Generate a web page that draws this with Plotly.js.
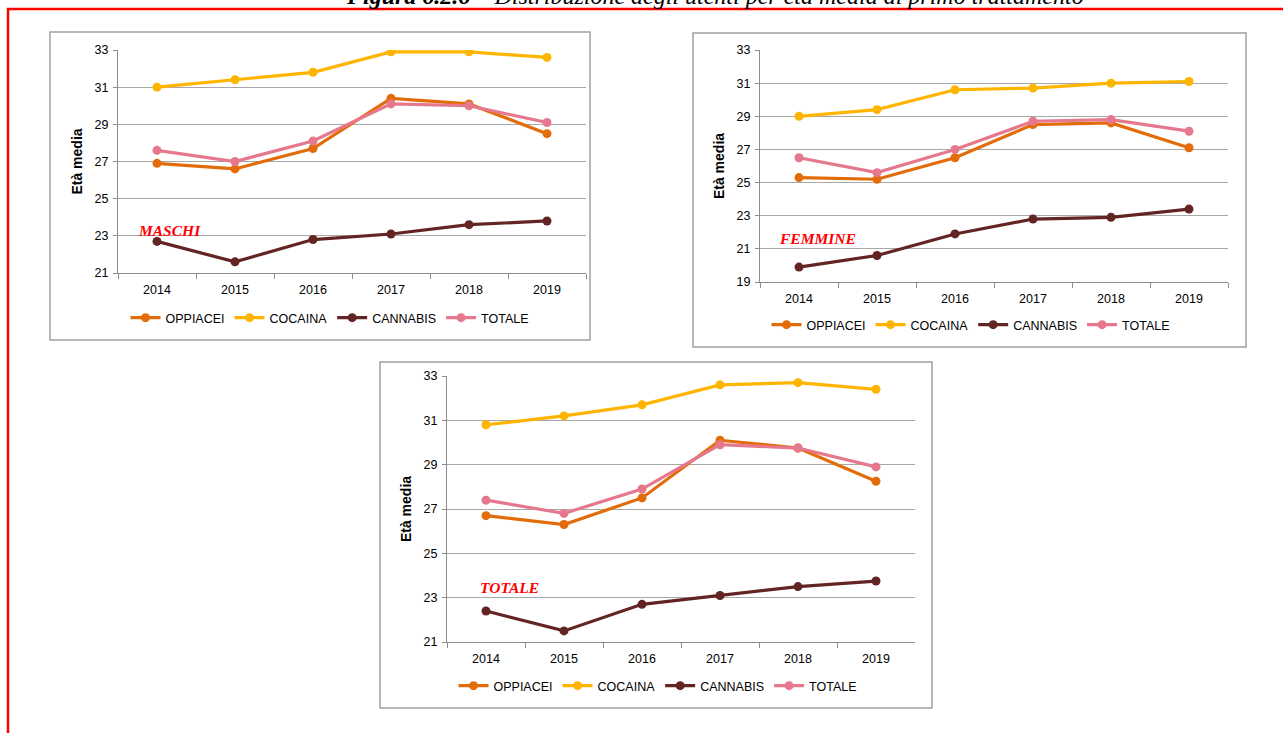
<!DOCTYPE html>
<html>
<head>
<meta charset="utf-8">
<script src="https://cdn.plot.ly/plotly-3.0.1.min.js"></script>
<style>
  html, body { margin: 0; padding: 0; background: #ffffff; }
  #chart { width: 1283px; height: 733px; }
</style>
</head>
<body>
<div id="chart"></div>
<script>
// Età media al primo trattamento per sostanza, anni 2014-2019
const years = ['2014', '2015', '2016', '2017', '2018', '2019'];
const seriesNames = ['OPPIACEI', 'COCAINA', 'CANNABIS', 'TOTALE'];

const maschiOppiacei = [26.9, 26.6, 27.7, 30.4, 30.1, 28.5];
const maschiCocaina  = [31.0, 31.4, 31.8, 32.9, 32.9, 32.6];
const maschiCannabis = [22.7, 21.6, 22.8, 23.1, 23.6, 23.8];
const maschiTotale   = [27.6, 27.0, 28.1, 30.1, 30.0, 29.1];

const femmineOppiacei = [25.3, 25.2, 26.5, 28.5, 28.6, 27.1];
const femmineCocaina  = [29.0, 29.4, 30.6, 30.7, 31.0, 31.1];
const femmineCannabis = [19.9, 20.6, 21.9, 22.8, 22.9, 23.4];
const femmineTotale   = [26.5, 25.6, 27.0, 28.7, 28.8, 28.1];

const totaleOppiacei = [26.7, 26.3, 27.5, 30.1, 29.75, 28.25];
const totaleCocaina  = [30.8, 31.2, 31.7, 32.6, 32.7, 32.4];
const totaleCannabis = [22.4, 21.5, 22.7, 23.1, 23.5, 23.75];
const totaleTotale   = [27.4, 26.8, 27.9, 29.9, 29.75, 28.9];

const panelLabels = ['MASCHI', 'FEMMINE', 'TOTALE'];
const yTitle = 'Età media';
const figureTitle = '<b>Figura 6.2.6</b> – Distribuzione degli utenti per età media al primo trattamento';

const seriesColors = ['#E36C0A', '#FFB500', '#632523', '#E5788C'];

// Page geometry (pixels)
const W = 1283, H = 733;
const fx = p => p / W;
const fy = p => 1 - p / H;

const panels = [
  { data: [maschiOppiacei, maschiCocaina, maschiCannabis, maschiTotale],
    ax: '', area: [118, 50, 586, 273], yRange: [21, 33], box: [50, 32, 590, 340],
    legendAt: [330, 318], labelAt: [170, 230] },
  { data: [femmineOppiacei, femmineCocaina, femmineCannabis, femmineTotale],
    ax: '2', area: [760, 50, 1228, 282], yRange: [19, 33], box: [693, 33, 1246, 347],
    legendAt: [971, 325], labelAt: [817, 238] },
  { data: [totaleOppiacei, totaleCocaina, totaleCannabis, totaleTotale],
    ax: '3', area: [447, 376, 915, 642], yRange: [21, 33], box: [380, 362, 932, 708],
    legendAt: [658, 686], labelAt: [509, 587] }
];

const traces = [];
const layout = {
  width: W, height: H,
  margin: { l: 0, r: 0, t: 0, b: 0, pad: 0 },
  paper_bgcolor: '#ffffff',
  plot_bgcolor: 'rgba(0,0,0,0)',
  showlegend: true,
  font: { family: 'Arial, "Liberation Sans", sans-serif', size: 12, color: '#000000' },
  shapes: [],
  annotations: []
};

panels.forEach((p, i) => {
  const xName = 'x' + p.ax, yName = 'y' + p.ax;
  const legendName = i === 0 ? 'legend' : 'legend' + (i + 1);

  p.data.forEach((vals, s) => {
    traces.push({
      type: 'scatter', mode: 'lines+markers',
      x: years, y: vals, name: seriesNames[s],
      xaxis: xName, yaxis: yName, legend: legendName,
      line: { color: seriesColors[s], width: 3.2 },
      marker: { color: seriesColors[s], size: 9, symbol: 'circle' },
      hoverinfo: 'x+y+name'
    });
  });

  const [x0, y0, x1, y1] = p.area;
  layout['xaxis' + p.ax] = {
    domain: [fx(x0), fx(x1)], anchor: yName,
    type: 'category', range: [-0.5, 5.5],
    showgrid: false, zeroline: false,
    showline: true, linecolor: '#8C8C8C', linewidth: 1,
    ticks: 'outside', tickson: 'boundaries', ticklen: 5, tickcolor: '#8C8C8C',
    ticklabelstandoff: 5,
    tickfont: { size: 12.5, color: '#000000' }, fixedrange: true
  };
  layout['yaxis' + p.ax] = {
    domain: [fy(y1), fy(y0)], anchor: xName,
    range: p.yRange, dtick: 2, tick0: p.yRange[0],
    showgrid: true, gridcolor: '#A8A8A8', gridwidth: 1, zeroline: false,
    showline: true, linecolor: '#8C8C8C', linewidth: 1,
    ticks: 'outside', ticklen: 4, tickcolor: '#8C8C8C',
    ticklabelstandoff: 2,
    tickfont: { size: 12.5, color: '#000000' },
    title: { text: '<b>' + yTitle + '</b>', font: { size: 14, color: '#000000' }, standoff: 8 },
    fixedrange: true
  };

  layout[legendName] = {
    orientation: 'h', xref: 'paper', yref: 'paper',
    x: fx(p.legendAt[0]), y: fy(p.legendAt[1]),
    xanchor: 'center', yanchor: 'middle',
    bgcolor: 'rgba(0,0,0,0)', borderwidth: 0,
    font: { size: 12.5, color: '#000000' },
    itemwidth: 30, tracegroupgap: 0
  };

  // panel frame
  layout.shapes.push({
    type: 'rect', xref: 'paper', yref: 'paper', layer: 'below',
    x0: fx(p.box[0]), x1: fx(p.box[2]), y0: fy(p.box[3]), y1: fy(p.box[1]),
    line: { color: '#A0A0A0', width: 1.5 }, fillcolor: 'rgba(0,0,0,0)'
  });

  // panel label
  layout.annotations.push({
    xref: 'paper', yref: 'paper', x: fx(p.labelAt[0]), y: fy(p.labelAt[1]),
    xanchor: 'center', yanchor: 'middle', showarrow: false,
    text: '<b><i>' + panelLabels[i] + '</i></b>',
    font: { family: '"Liberation Serif", "Times New Roman", serif', size: 15.5, color: '#FF0000' }
  });
});

// red page frame (top and left)
layout.shapes.push({
  type: 'path', xref: 'paper', yref: 'paper',
  path: 'M ' + fx(8) + ' ' + fy(733) + ' L ' + fx(8) + ' ' + fy(9) + ' L ' + fx(1283) + ' ' + fy(9),
  line: { color: '#FF0000', width: 2.5 }
});

// figure caption above the frame
layout.annotations.push({
  xref: 'paper', yref: 'paper', x: fx(715), y: fy(11),
  xanchor: 'center', yanchor: 'bottom', showarrow: false,
  text: '<i>' + figureTitle + '</i>',
  font: { family: '"Liberation Serif", "Times New Roman", serif', size: 24, color: '#000000' }
});

Plotly.newPlot('chart', traces, layout, { displayModeBar: false, staticPlot: false });
</script>
</body>
</html>
